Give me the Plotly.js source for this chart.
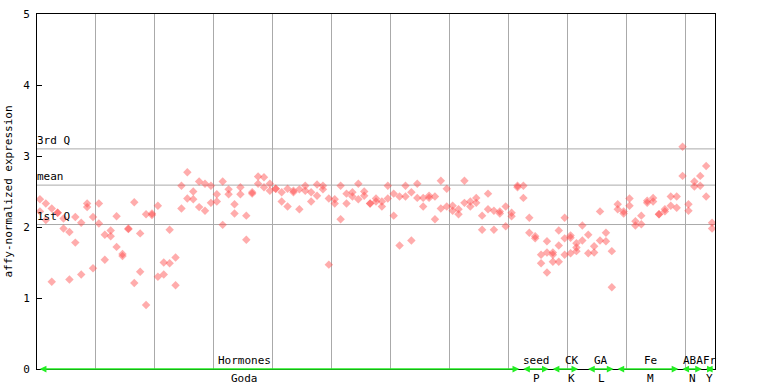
<!DOCTYPE html>
<html>
<head>
<meta charset="utf-8">
<script src="https://cdn.plot.ly/plotly-3.0.1.min.js"></script>
<style>html,body{margin:0;padding:0;background:#fff;}#chart{width:768px;height:384px;}</style>
</head>
<body>
<div id="chart"></div>
<script>
// replicate values per sample (sample index = position in array)
const rep1 = [2.39,2.33,2.26,2.20,2.12,1.93,2.14,2.06,2.33,2.14,2.33,1.89,1.95,2.15,1.62,1.98,2.35,1.91,2.18,2.19,
  2.30,1.50,1.96,1.57,2.58,2.77,2.50,2.64,2.61,2.58,2.46,2.64,2.53,2.32,2.56,2.16,2.49,2.71,2.70,2.61,
  2.54,2.49,2.54,2.51,2.53,2.58,2.49,2.60,2.58,2.40,2.39,2.58,2.47,2.49,2.61,2.50,2.33,2.40,2.36,2.58,
  2.47,2.43,2.58,2.49,2.61,2.41,2.44,2.43,2.65,2.54,2.30,2.25,2.65,2.36,2.41,2.16,2.47,2.23,2.22,2.29,
  2.20,2.58,2.58,2.13,1.87,1.61,1.80,1.64,1.95,2.13,1.88,1.77,2.02,1.89,1.73,2.22,1.92,1.66,2.32,2.22,
  2.40,2.08,2.16,2.37,2.41,2.18,2.25,2.43,2.43,3.13,2.32,2.64,2.72,2.86,2.06];
const rep2 = [2.22,2.10,1.23,2.20,1.98,1.26,1.78,1.33,2.28,1.42,2.05,1.54,1.87,1.72,1.59,1.97,1.21,1.37,0.90,2.17,
  1.30,1.33,1.49,1.18,2.26,2.40,2.39,2.28,2.23,2.34,2.36,2.03,2.46,2.19,2.46,1.82,2.47,2.61,2.56,2.51,
  2.54,2.36,2.29,2.49,2.25,2.51,2.36,2.44,2.53,1.47,2.33,2.11,2.33,2.43,2.39,2.44,2.33,2.36,2.29,2.40,
  2.16,1.74,2.43,1.81,2.41,2.29,2.41,2.11,2.26,2.29,2.23,2.18,2.34,2.29,2.34,1.96,2.25,1.96,2.19,2.01,
  2.15,2.56,2.41,1.92,1.84,1.49,1.64,1.61,1.74,1.84,1.85,1.71,1.81,1.63,1.64,1.81,1.80,1.15,2.25,2.19,
  2.30,2.02,2.04,2.34,2.36,2.18,2.22,2.30,2.27,2.72,2.23,2.57,2.58,2.43,1.98];
const rep3Samples = [86,87,88,89,90,91];
const rep3Values  = [1.36,1.51,1.51,1.61,1.63,1.66];

// summary lines
const statNames  = ["3rd Q","mean","1st Q"];
const statValues = [3.10,2.59,2.035];

// sample groups (first and last sample index)
const groupTop    = ["Hormones","seed","CK","GA","Fe","ABA","Fr"];
const groupBottom = ["Goda","P","K","L","M","N","Y"];
const groupStart  = [0,82,87,93,98,109,113];
const groupEnd    = [81,86,91,97,108,112,114];
const groupLabelX = [34.7,84.2,90.2,95.2,103.5,110.7,113.6];

const yTicks = [0,1,2,3,4,5];

const idx = rep1.map((_,i)=>i);
const xs = [], ys = [];
idx.forEach(i=>{ xs.push(i); ys.push(rep1[i]); xs.push(i); ys.push(rep2[i]); });
rep3Samples.forEach((s,k)=>{ xs.push(s); ys.push(rep3Values[k]); });

const mono = "DejaVu Sans Mono, monospace";
const traces = [{
  type:"scatter", mode:"markers", x:xs, y:ys, hoverinfo:"skip",
  marker:{symbol:"diamond", size:6.5, color:"rgba(255,70,70,0.45)", line:{width:0}},
  cliponaxis:false
}];

const shapes = statValues.map(v=>({type:"line", xref:"paper", x0:0, x1:1, yref:"y", y0:v, y1:v,
  line:{color:"#aaaaaa", width:1}, layer:"below"}));

const annotations = [];
statNames.forEach((n,k)=>annotations.push({xref:"paper", x:0, xanchor:"left", xshift:-2, yref:"y", y:statValues[k],
  yanchor:"bottom", yshift:0, text:n, showarrow:false, font:{family:mono, size:11, color:"#000"}}));
groupTop.forEach((g,k)=>{
  annotations.push({x:groupEnd[k]+0.3, y:0, ax:groupStart[k]-0.3, ay:0, axref:"x", ayref:"y", xref:"x", yref:"y",
    text:"", showarrow:true, arrowside:"end+start", arrowhead:2, arrowsize:0.9, arrowwidth:1.5, arrowcolor:"#22ee22"});
  annotations.push({x:groupLabelX[k], y:0, xref:"x", yref:"y", yanchor:"bottom", yshift:0, text:g,
    showarrow:false, font:{family:mono, size:11, color:"#000"}});
  annotations.push({x:groupLabelX[k], y:0, xref:"x", yref:"y", yanchor:"top", yshift:-1, text:groupBottom[k],
    showarrow:false, font:{family:mono, size:11, color:"#000"}});
});

const layout = {
  width:768, height:384, margin:{l:37, r:53, t:14, b:15},
  paper_bgcolor:"#fff", plot_bgcolor:"#fff", showlegend:false,
  font:{family:mono, size:11, color:"#000"},
  xaxis:{range:[-0.5,114.5], tickvals:[9.5,19.5,29.5,39.5,49.5,59.5,69.5,79.5,89.5,99.5,109.5],
    showticklabels:false, ticks:"", showgrid:true, gridcolor:"#aaaaaa", gridwidth:1,
    showline:true, linecolor:"#000", linewidth:1, mirror:true, zeroline:false, fixedrange:true},
  yaxis:{range:[0,5], tickvals:yTicks, ticktext:yTicks.map(String), ticks:"inside", ticklen:5, tickcolor:"#000",
    showgrid:false, zeroline:false, showline:true, linecolor:"#000", linewidth:1, mirror:true,
    title:{text:"affy-normalized expression", font:{family:mono, size:11}, standoff:8},
    tickfont:{family:mono, size:11}, ticklabelstandoff:4},
  shapes:shapes, annotations:annotations
};
Plotly.newPlot("chart", traces, layout, {staticPlot:true, displayModeBar:false});
</script>
</body>
</html>
